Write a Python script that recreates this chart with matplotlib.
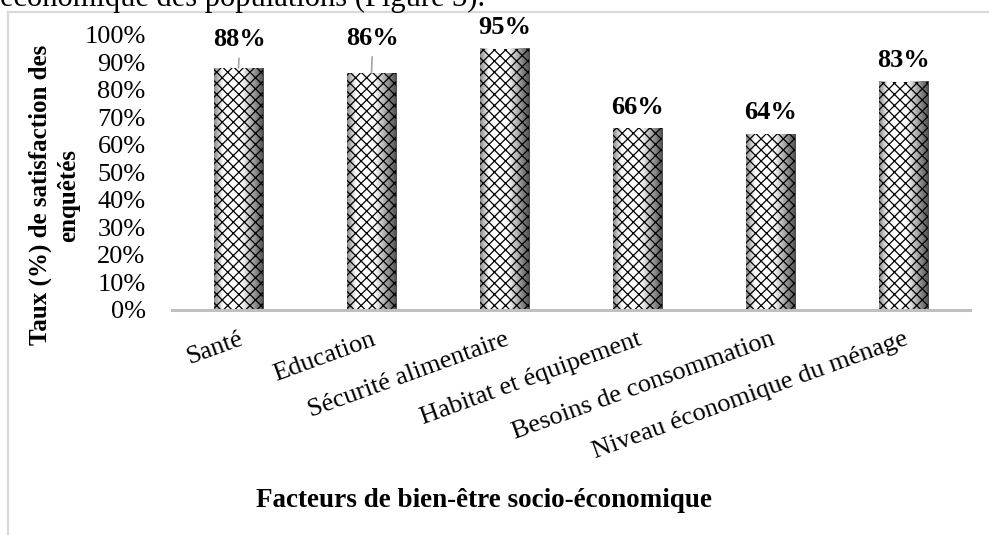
import matplotlib
matplotlib.use('Agg')
import matplotlib.pyplot as plt
import numpy as np
from matplotlib.ticker import PercentFormatter
from matplotlib.lines import Line2D

# donnees du graphique
facteurs = ['Santé', 'Education', 'Sécurité alimentaire', 'Habitat et équipement',
            'Besoins de consommation', 'Niveau économique du ménage']
taux = [88, 86, 95, 66, 64, 83]

plt.rcParams['font.family'] = ['Liberation Serif', 'DejaVu Serif']
plt.rcParams['hatch.linewidth'] = 0.9

fig = plt.figure(figsize=(9.89, 5.35), dpi=100)
ax = fig.add_axes([0.1739, 0.4206, 0.8069, 0.514])

x = np.arange(len(facteurs))
w = 0.375

# ombrage "cylindre" sous les hachures
shade = np.interp(np.linspace(0, 1, 60), [0, 0.18, 0.55, 1.0], [0.55, 1.0, 1.0, 0.3])
for xi, v in zip(x, taux):
    ax.imshow(shade[np.newaxis, :], extent=(xi - w / 2, xi + w / 2, 0, v),
              cmap='gray', vmin=0, vmax=1, aspect='auto', zorder=2)
ax.bar(x, taux, width=w, color='none', edgecolor='black', hatch='xxx', linewidth=0, zorder=3)

ax.set_xlim(-0.5, len(facteurs) - 0.5)
ax.set_ylim(0, 100)
ax.set_yticks(np.arange(0, 101, 10))
ax.yaxis.set_major_formatter(PercentFormatter(100, decimals=0))
ax.set_xticks(x)
ax.set_xticklabels(facteurs, rotation=20, ha='right', va='top', rotation_mode='anchor')
ax.tick_params(axis='y', length=0, pad=19, labelsize=19)
ax.tick_params(axis='x', length=0, pad=13, labelsize=19)

for s in ['top', 'right', 'left']:
    ax.spines[s].set_visible(False)
ax.spines['bottom'].set_color('#BFBFBF')
ax.spines['bottom'].set_linewidth(2.2)
ax.spines['bottom'].set_zorder(4)

# etiquettes de valeurs (les deux premieres avec trait de rappel)
for i, v in enumerate(taux):
    if i == 0:
        ax.annotate(f'{v}%', xy=(i, v), xytext=(1, 12), textcoords='offset points',
                    ha='center', va='bottom', fontsize=19, fontweight='bold',
                    arrowprops=dict(arrowstyle='-', color='#A6A6A6', lw=1.2, shrinkA=3, shrinkB=0))
    elif i == 1:
        ax.annotate(f'{v}%', xy=(i, v), xytext=(1, 17), textcoords='offset points',
                    ha='center', va='bottom', fontsize=19, fontweight='bold',
                    arrowprops=dict(arrowstyle='-', color='#A6A6A6', lw=1.2, shrinkA=3, shrinkB=0))
    else:
        ax.annotate(f'{v}%', xy=(i, v), xytext=(0, 7), textcoords='offset points',
                    ha='center', va='bottom', fontsize=19, fontweight='bold')

fig.text(0.055, 0.635, 'Taux (%) de satisfaction des\nenquêtés', rotation=90,
         ha='center', va='center', multialignment='center', fontsize=18,
         fontweight='bold', linespacing=1.3)
fig.text(0.489, 0.065, 'Facteurs de bien-être socio-économique', ha='center', va='center',
         fontsize=19.5, fontweight='bold')

# cadre gris et texte du document coupe en haut
fig.add_artist(Line2D([0.008, 0.008], [0, 1 - 12 / 535], color='#D9D9D9', lw=1.6))
fig.add_artist(Line2D([0.008, 1], [1 - 12 / 535, 1 - 12 / 535], color='#D9D9D9', lw=1.6))
fig.text(0.0, 1 - 6 / 535, 'économique des populations (Figure 3).', ha='left',
         va='baseline', fontsize=22)

fig.savefig('out.png', dpi=100)
